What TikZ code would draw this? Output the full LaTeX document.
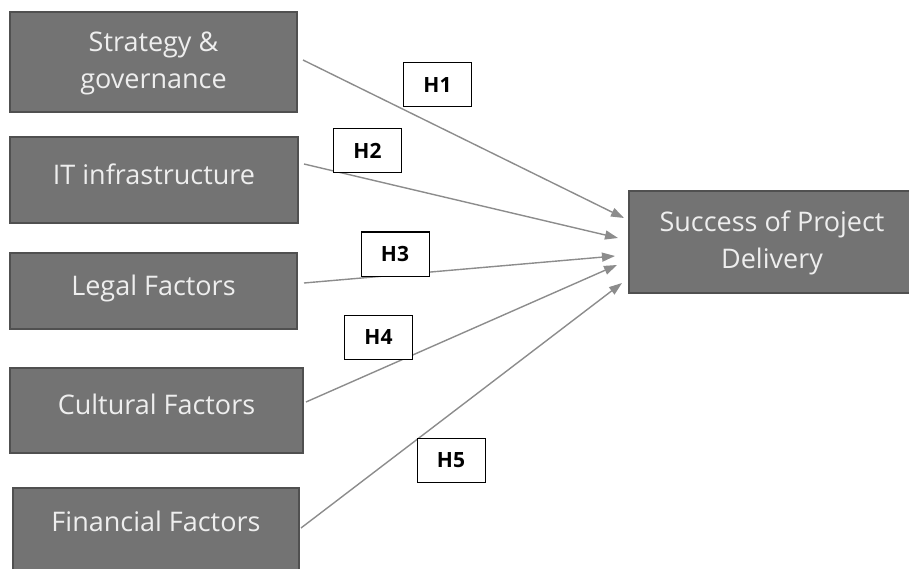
\documentclass[tikz,border=0pt]{standalone}
\usepackage{fontspec}
\setmainfont{Open Sans}
\usetikzlibrary{arrows.meta}

\definecolor{boxgray}{RGB}{115,115,115}
\definecolor{boxedge}{RGB}{80,80,80}
\definecolor{linegray}{RGB}{140,140,140}
\definecolor{textwhite}{RGB}{238,238,238}

\tikzset{
  factor/.style={draw=boxedge,line width=2pt,fill=boxgray,text=textwhite,
    font=\fontsize{27}{37}\selectfont,align=center,inner sep=0pt,text depth=12pt},
  hyp/.style={draw=black,line width=1pt,fill=white,minimum width=68pt,minimum height=44pt,
    inner sep=0pt,font=\fontsize{21}{22}\selectfont\bfseries},
  link/.style={draw=linegray,line width=1.4pt,-{Triangle[length=13pt,width=9pt]}}
}

\begin{document}
\begin{tikzpicture}[x=1pt,y=-1pt]
		\useasboundingbox (0,0) rectangle (909,569);

		% 要因のボックス
		\node[factor,minimum width=287pt,minimum height=100pt,text depth=4pt] (strat) at (153.5,62) {Strategy \&\\governance};
		\node[factor,minimum width=288pt,minimum height=86pt] (it) at (154,180) {IT infrastructure};
		\node[factor,minimum width=287pt,minimum height=76pt] (legal) at (153.5,291) {Legal Factors};
		\node[factor,minimum width=293pt,minimum height=85pt] (cult) at (156.5,410.5) {Cultural Factors};
		\node[factor,minimum width=286pt,minimum height=92pt,text depth=26pt] (fin) at (156,534) {Financial Factors};
		\node[factor,minimum width=286pt,minimum height=102pt,text depth=4pt] (succ) at (772,242) {Success of Project\\Delivery};

		% 矢印
		\draw[link] ([shift={(5,-2)}]strat.east) -- ([shift={(-4,-24)}]succ.west);
		\draw[link] ([shift={(5,-16)}]it.east) -- ([shift={(-10,-4)}]succ.west);
		\draw[link] ([shift={(6,-8)}]legal.east) -- ([shift={(-13,14)}]succ.west);
		\draw[link] ([shift={(2,-8.5)}]cult.east) -- ([shift={(-11,23)}]succ.west);
		\draw[link] ([shift={(1,-6)}]fin.east) -- ([shift={(-6,41)}]succ.west);

		% 仮説ラベル
		\node[hyp] (h1) at (437.5,85) {H1};
		\node[hyp] (h2) at (367.5,151) {H2};
		\node[hyp] (h3) at (395,254) {H3};
		\node[hyp] (h4) at (378.5,337.5) {H4};
		\node[hyp] (h5) at (451,460.5) {H5};
	\end{tikzpicture}
\end{document}
